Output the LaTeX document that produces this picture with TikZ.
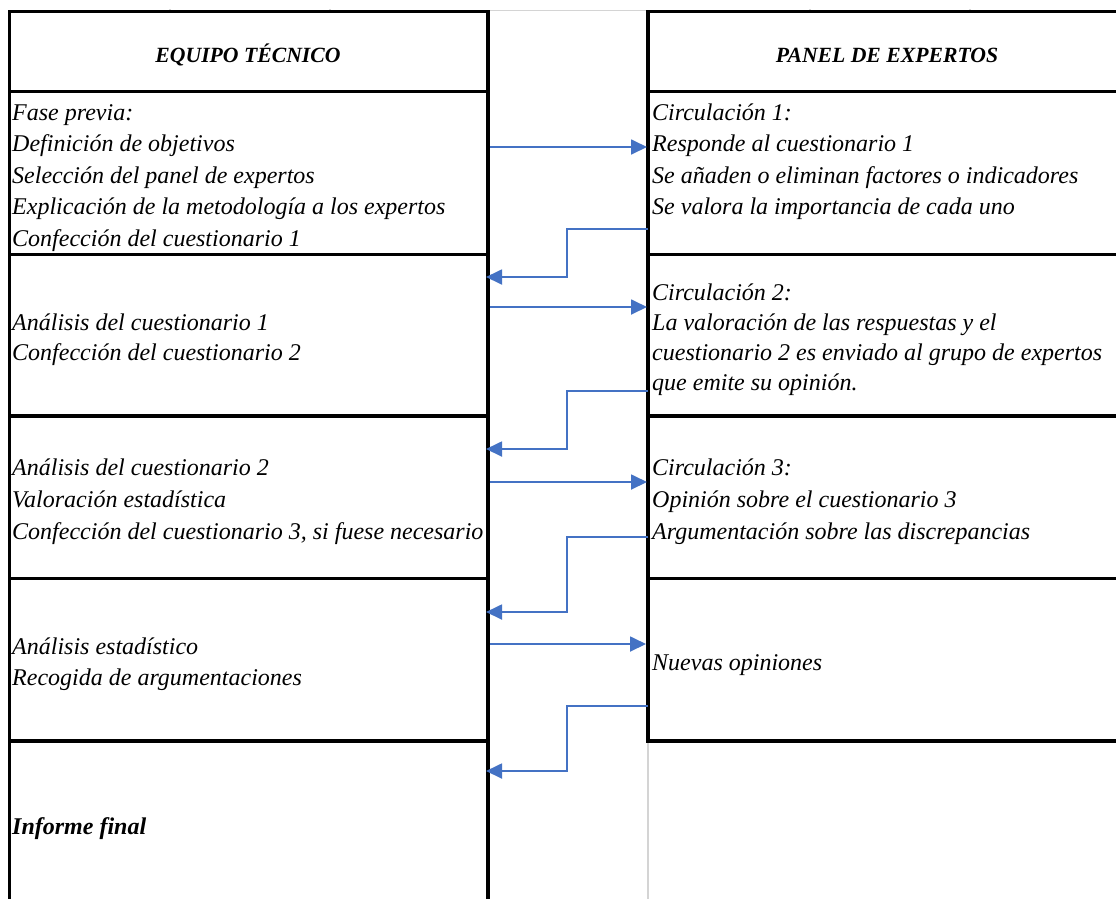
\documentclass[tikz,border=0pt]{standalone}
\usepackage{fontspec}
\setmainfont{Liberation Serif}
\usetikzlibrary{arrows.meta}
\definecolor{arrowblue}{HTML}{4472C4}
\definecolor{faint}{HTML}{D4D4D4}
\begin{document}
\begin{tikzpicture}[x=1pt,y=-1pt,
  grid/.style={line width=3.4pt, draw=black, line join=miter},
  hdr/.style={font=\fontsize{21.7}{26}\selectfont\bfseries\itshape, inner sep=0pt, anchor=base},
  cell/.style={align=left, inner sep=0pt, anchor=base west, font=\fontsize{24}{31.5}\selectfont\itshape},
  arr/.style={draw=arrowblue, line width=1.8pt, line join=miter, -{Triangle[length=16pt,width=15pt]}},
  ]
\useasboundingbox (0,0) rectangle (1116,898);
\fill[white] (0,0) rectangle (1116,898);
\begin{scope}
\clip (0,0) rectangle (1116,898);
% faint grid remnants
\draw[faint, line width=1.4pt] (488,10.7) -- (648,10.7);
\draw[faint, line width=2pt] (648,741) -- (648,900);
\foreach \tx in {170,330,810,970} \fill[faint] (\tx-1,9.2) rectangle (\tx+1,10.4);
% left table
\draw[grid] (9.5,900) -- (9.5,11.5) -- (488,11.5) -- (488,900);
\foreach \ry in {91.5,254.5,416,578.5,741} \draw[grid] (9.5,\ry) -- (488,\ry);
% right table
\draw[grid] (1130,741) -- (648,741) -- (648,11.5) -- (1130,11.5);
\foreach \ry in {91.5,254.5,416,578.5} \draw[grid] (648,\ry) -- (1130,\ry);
\end{scope}

% headers
\node[hdr] (hL) at (248,62) {EQUIPO TÉCNICO};
\node[hdr] (hR) at (887,62) {PANEL DE EXPERTOS};

% left column (anchored at the baseline of the last line)
\node[cell] (L1) at (12,246) {Fase previa:\\Definición de objetivos\\Selección del panel de expertos\\Explicación de la metodología a los expertos\\Confección del cuestionario 1};
\node[cell, font=\fontsize{24}{30}\selectfont\itshape] (L2) at (12,360) {Análisis del cuestionario 1\\Confección del cuestionario 2};
\node[cell, font=\fontsize{24}{32}\selectfont\itshape] (L3) at (12,539) {Análisis del cuestionario 2\\Valoración estadística\\Confección del cuestionario 3, si fuese necesario};
\node[cell, font=\fontsize{24}{31}\selectfont\itshape] (L4) at (12,685) {Análisis estadístico\\Recogida de argumentaciones};
\node[cell, font=\fontsize{24}{31}\selectfont\bfseries\itshape] (L5) at (12,834) {Informe final};

% right column
\node[cell] (R1) at (652,214.5) {Circulación 1:\\Responde al cuestionario 1\\Se añaden o eliminan factores o indicadores\\Se valora la importancia de cada uno};
\node[cell, font=\fontsize{24}{30}\selectfont\itshape] (R2) at (652,390) {Circulación 2:\\La valoración de las respuestas y el\\cuestionario 2 es enviado al grupo de expertos\\que emite su opinión.};
\node[cell, font=\fontsize{24}{32}\selectfont\itshape] (R3) at (652,539) {Circulación 3:\\Opinión sobre el cuestionario 3\\Argumentación sobre las discrepancias};
\node[cell] (R4) at (652,670) {Nuevas opiniones};

% connector end points
\coordinate (f1s) at (490,147); \coordinate (f1e) at (647,147);
\coordinate (f2s) at (490,307); \coordinate (f2e) at (647,307);
\coordinate (f3s) at (490,482); \coordinate (f3e) at (647,482);
\coordinate (f4s) at (490,644); \coordinate (f4e) at (646,644);
\coordinate (b1s) at (648,229); \coordinate (b1e) at (486,277);
\coordinate (b2s) at (648,391); \coordinate (b2e) at (486,449);
\coordinate (b3s) at (648,537); \coordinate (b3e) at (486,612);
\coordinate (b4s) at (648,706); \coordinate (b4e) at (486,771);

\draw[arr] (f1s) -- (f1e);
\draw[arr] (f2s) -- (f2e);
\draw[arr] (f3s) -- (f3e);
\draw[arr] (f4s) -- (f4e);
\draw[arr] (b1s) -- (567,229) -- (567,277) -- (b1e);
\draw[arr] (b2s) -- (567,391) -- (567,449) -- (b2e);
\draw[arr] (b3s) -- (567,537) -- (567,612) -- (b3e);
\draw[arr] (b4s) -- (567,706) -- (567,771) -- (b4e);
\end{tikzpicture}
\end{document}
